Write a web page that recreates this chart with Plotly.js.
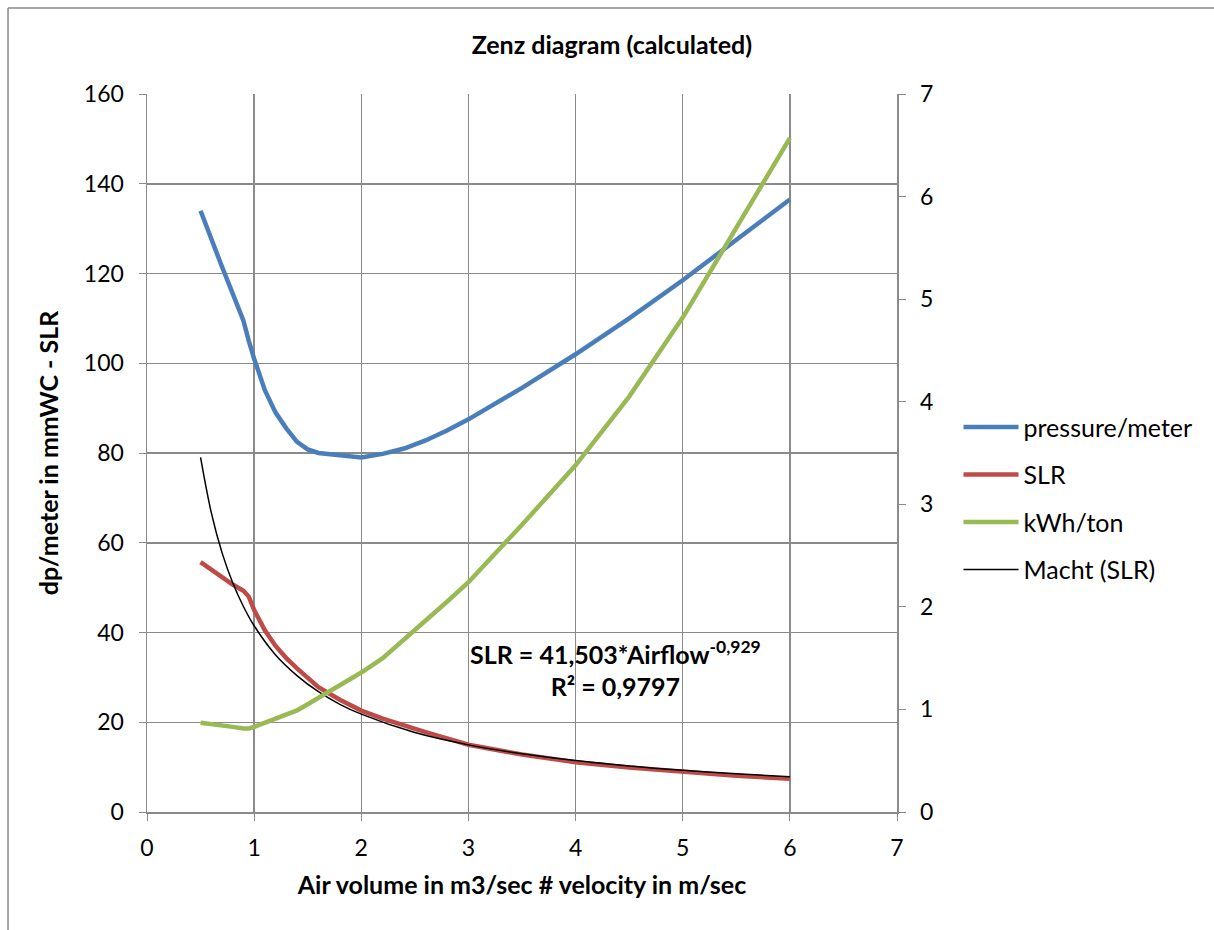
<!DOCTYPE html>
<html>
<head>
<meta charset="utf-8">
<script src="https://cdn.plot.ly/plotly-3.0.1.min.js"></script>
<style>html,body{margin:0;padding:0;background:#fff;overflow:hidden;}#chart{width:1214px;height:930px;}</style>
</head>
<body>
<div id="chart"></div>
<script>
// Air volume (x) values
const airflow = [0.5,0.6,0.7,0.8,0.9,0.95,1.0,1.1,1.2,1.3,1.4,1.5,1.6,1.8,2.0,2.2,2.4,2.6,2.8,3.0,3.5,4.0,4.5,5.0,5.5,6.0];
// pressure/meter (left axis)
const pressure = [134,127.5,121.5,115.5,109.5,105,101,94,89,85.5,82.5,80.8,80,79.5,79,79.8,81,82.8,85,87.5,94.5,102,110,118.5,127.5,136.5];
// SLR (left axis)
const slr = [55.7,54,52.3,50.7,49.3,48,45,40.5,37,34.3,32,29.8,27.8,25,22.6,20.8,19.2,17.8,16.4,15,12.8,11.1,9.9,8.9,8.1,7.4];
// kWh/ton (right axis)
const kwh = [0.87,0.86,0.845,0.83,0.815,0.815,0.83,0.87,0.92,0.96,0.99,1.05,1.11,1.23,1.36,1.50,1.68,1.87,2.05,2.24,2.8,3.38,4.05,4.82,5.70,6.57];
// Macht (SLR) power trendline
const trendX = [0.5,0.6,0.7,0.8,0.9,1.0,1.2,1.4,1.6,1.8,2.0,2.5,3.0,3.5,4.0,4.5,5.0,5.5,6.0];
const trendY = [79.0,66.7,57.8,51.1,45.8,41.5,35.0,30.4,26.8,24.0,21.8,17.7,14.96,12.96,11.45,10.26,9.30,8.52,7.86];

const titleText = "Zenz diagram (calculated)";
const xTitle = "Air volume in m3/sec # velocity in m/sec";
const yTitle = "dp/meter in mmWC - SLR";
const eqText = "<b>SLR = 41,503*Airflow<sup>-0,929</sup></b><br><b>R² = 0,9797</b>";

const calib = "Lato, 'Open Sans', sans-serif";
const tickFont = {family: calib, size: 23, color: "#000"};

const traces = [
  {x: airflow, y: pressure, name: "pressure/meter", type: "scatter", mode: "lines",
   line: {color: "#4A7EBB", width: 4.5}, legendgroup: "a"},
  {x: airflow, y: slr, name: "SLR", type: "scatter", mode: "lines",
   line: {color: "#BE4B48", width: 4.5}, legendgroup: "b"},
  {x: airflow, y: kwh, name: "kWh/ton", type: "scatter", mode: "lines", yaxis: "y2",
   line: {color: "#98B954", width: 4.5}, legendgroup: "c"},
  {x: trendX, y: trendY, name: "Macht (SLR)", type: "scatter", mode: "lines",
   line: {color: "#000", width: 1.5, shape: "spline"}, legendgroup: "d"}
];

const layout = {
  width: 1214, height: 930,
  margin: {l: 147, r: 317, t: 94, b: 118},
  paper_bgcolor: "#fff", plot_bgcolor: "#fff",
  showlegend: true,
  title: {text: "<b>" + titleText + "</b>", font: {family: calib, size: 25, color: "#000"},
          x: 0.504, xanchor: "center", xref: "container", y: 0.951, yanchor: "middle", yref: "container"},
  xaxis: {range: [0, 7], dtick: 1, tick0: 0, showgrid: true, gridcolor: "#8a8a8a", gridwidth: 1.5,
          zeroline: false, showline: true, linecolor: "#8a8a8a", linewidth: 1.5,
          ticks: "outside", ticklen: 7, tickcolor: "#8a8a8a", tickfont: tickFont, ticklabelstandoff: 8,
          title: {text: "<b>" + xTitle + "</b>", font: {family: calib, size: 25, color: "#000"}, standoff: 16}},
  yaxis: {range: [0, 160], dtick: 20, showgrid: true, gridcolor: "#8a8a8a", gridwidth: 1.5,
          zeroline: false, showline: true, linecolor: "#8a8a8a", linewidth: 1.5,
          ticks: "outside", ticklen: 7, tickcolor: "#8a8a8a", tickfont: tickFont, ticklabelstandoff: 10,
          title: {text: "<b>" + yTitle + "</b>", font: {family: calib, size: 25, color: "#000"}, standoff: 18}},
  yaxis2: {range: [0, 7], dtick: 1, overlaying: "y", side: "right", showgrid: false,
           zeroline: false, showline: true, linecolor: "#8a8a8a", linewidth: 1.5,
           ticks: "outside", ticklen: 7, tickcolor: "#8a8a8a", tickfont: tickFont, ticklabelstandoff: 10},
  legend: {x: 1.082, xanchor: "left", y: 0.568, yanchor: "top", bgcolor: "rgba(0,0,0,0)",
           font: {family: calib, size: 25, color: "#000"}, itemwidth: 55, tracegroupgap: 12,
           traceorder: "grouped"},
  annotations: [
    {text: eqText, xref: "x", yref: "y", x: 4.37, y: 32, xanchor: "center", yanchor: "middle",
     showarrow: false, align: "center", font: {family: calib, size: 25, color: "#000"}}
  ],
  shapes: [
    {type: "line", xref: "paper", yref: "paper", x0: -0.1853, x1: -0.1853, y0: -0.5, y1: 1.1198,
     line: {color: "#8a8a8a", width: 1.5}, layer: "below"},
    {type: "line", xref: "paper", yref: "paper", x0: -0.1853, x1: 1.43, y0: 1.1198, y1: 1.1198,
     line: {color: "#8a8a8a", width: 1.5}, layer: "below"}
  ]
};

Plotly.newPlot("chart", traces, layout, {displayModeBar: false, staticPlot: true});
</script>
</body>
</html>
